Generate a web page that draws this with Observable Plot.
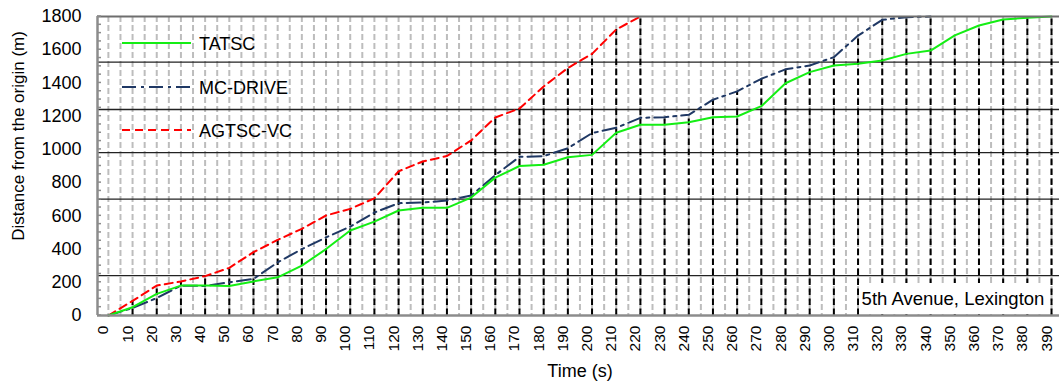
<!DOCTYPE html>
<html><head><meta charset="utf-8">
<script src="https://cdn.jsdelivr.net/npm/d3@7"></script>
<script src="https://cdn.jsdelivr.net/npm/@observablehq/plot@0.6"></script>
<style>
body{margin:0;background:#fff}
#chart{position:relative;width:1059px;height:383px}
</style>
</head><body><div id="chart"></div>
<script>
// ---- data ----
const timeTicks = [0,10,20,30,40,50,60,70,80,90,100,110,120,130,140,150,160,170,180,190,200,210,220,230,240,250,260,270,280,290,300,310,320,330,340,350,360,370,380,390];
const gridTimes = [0,5,10,15,20,25,30,35,40,45,50,55,60,65,70,75,80,85,90,95,100,105,110,115,120,125,130,135,140,145,150,155,160,165,170,175,180,185,190,195,200,205,210,215,220,225,230,235,240,245,250,255,260,265,270,275,280,285,290,295,300,305,310,315,320,325,330,335,340,345,350,355,360,365,370,375,380,385,390];
const yTicks = [0,200,400,600,800,1000,1200,1400,1600,1800];
const yMinorTicks = [0,50,100,150,200,250,300,350,400,450,500,550,600,650,700,750,800,850,900,950,1000,1050,1100,1150,1200,1250,1300,1350,1400,1450,1500,1550,1600,1650,1700,1750,1800];
const intersections = [240,700,980,1240,1525];

const tatsc   = [0,50,130,180,180,178,205,230,300,400,512,565,632,648,648,710,830,900,908,953,967,1100,1148,1148,1164,1194,1198,1260,1398,1465,1505,1515,1535,1575,1595,1686,1746,1782,1792,1800];
const mcDrive = [0,45,105,180,178,200,220,320,400,470,535,620,676,680,692,722,845,955,959,1007,1098,1130,1190,1194,1208,1299,1349,1425,1482,1505,1555,1685,1780,1796,1800];
const agtscVc = [0,88,180,205,237,287,381,455,522,602,642,705,868,927,960,1054,1192,1246,1379,1490,1575,1722,1800];

const seriesNames  = ["TATSC","MC-DRIVE","AGTSC-VC"];
const seriesColors = ["#14ee14","#1f3864","#ff0000"];
const seriesDashes = [null,"14,5,3,5","8,5"];
const seriesValues = [tatsc, mcDrive, agtscVc];

const xTitle = "Time (s)";
const yTitle = "Distance from the origin (m)";
const noteText = "5th Avenue, Lexington";

// ---- derived tables ----
const rows = [];
seriesValues.forEach((vals, s) => vals.forEach((v, i) => rows.push({series: seriesNames[s], t: timeTicks[i], v})));
const drops = timeTicks.map((t, i) => ({t, top: d3.max(seriesValues, vals => vals[i])})).filter(d => d.top != null);

const xDom = [-4.5, 393.3];
const font = "'Liberation Sans', Arial, sans-serif";

const lineMarks = seriesNames.map((name, s) =>
  Plot.line(rows.filter(r => r.series === name), {
    x: "t", y: "v", stroke: seriesColors[s], strokeWidth: 2,
    strokeDasharray: seriesDashes[s] || undefined
  })
).reverse();

const plot = Plot.plot({
  width: 1059, height: 383,
  marginLeft: 97, marginRight: 0, marginTop: 16, marginBottom: 68,
  style: {fontFamily: font, fontSize: "15px", color: "#000", background: "#fff"},
  x: {domain: xDom, axis: null},
  y: {domain: [0, 1800], axis: null},
  marks: [
    Plot.ruleX(gridTimes, {stroke: "#bdbdbd", strokeWidth: 2, strokeDasharray: "6,3"}),
    Plot.ruleY(intersections, {stroke: "#222", strokeWidth: 1.3}),
    Plot.ruleX(drops, {x: "t", y1: 0, y2: "top", stroke: "#000", strokeWidth: 2, strokeDasharray: "6.5,3.5"}),
    ...lineMarks,
    Plot.ruleY([0], {stroke: "#8c8c8c", strokeWidth: 2.5}),
    Plot.ruleY([1800], {stroke: "#6e6e6e", strokeWidth: 2}),
    Plot.ruleX([xDom[0]], {stroke: "#8c8c8c", strokeWidth: 2.5}),
    Plot.text(yTicks, {y: d => d, text: d => String(d), frameAnchor: "left", textAnchor: "end", dx: -16, fontSize: 18}),
    Plot.text(timeTicks, {x: d => d, text: d => String(d), frameAnchor: "bottom", rotate: -90, textAnchor: "end", dy: 10, fontSize: 15.5})
  ]
});
document.getElementById("chart").appendChild(plot);

const svg = d3.select(plot);
const ys = plot.scale("y");
const y = v => ys.apply(v);

// minor ticks inside the left axis
svg.append("g").selectAll("line").data(yMinorTicks).join("line")
  .attr("x1", 97).attr("x2", 101)
  .attr("y1", d => y(d)).attr("y2", d => y(d))
  .attr("stroke", "#8c8c8c").attr("stroke-width", 1.5);

// axis titles
svg.append("text").attr("transform", `translate(24,${136}) rotate(-90)`)
  .attr("text-anchor", "middle").attr("font-size", 17).attr("font-family", font)
  .attr("fill", "#000").text(yTitle);
svg.append("text").attr("x", 580).attr("y", 377)
  .attr("text-anchor", "middle").attr("font-size", 18).attr("font-family", font)
  .attr("fill", "#000").text(xTitle);

// legend
const legendY = [43, 87, 130];
const lg = svg.append("g");
seriesNames.forEach((name, s) => {
  lg.append("line").attr("x1", 122).attr("x2", 191)
    .attr("y1", legendY[s]).attr("y2", legendY[s])
    .attr("stroke", seriesColors[s]).attr("stroke-width", 2)
    .attr("stroke-dasharray", seriesDashes[s] || null);
  lg.append("text").attr("x", 199).attr("y", legendY[s] + 6.5)
    .attr("text-anchor", "start")
    .attr("font-size", 18).attr("font-family", font).attr("fill", "#000").text(name);
});

// annotation box
svg.append("rect").attr("x", 859).attr("y", 283).attr("width", 191).attr("height", 31)
  .attr("fill", "#fff");
svg.append("text").attr("x", 953).attr("y", 305).attr("text-anchor", "middle")
  .attr("font-size", 18.5).attr("font-family", font).attr("fill", "#000").text(noteText);
</script>
</body></html>
